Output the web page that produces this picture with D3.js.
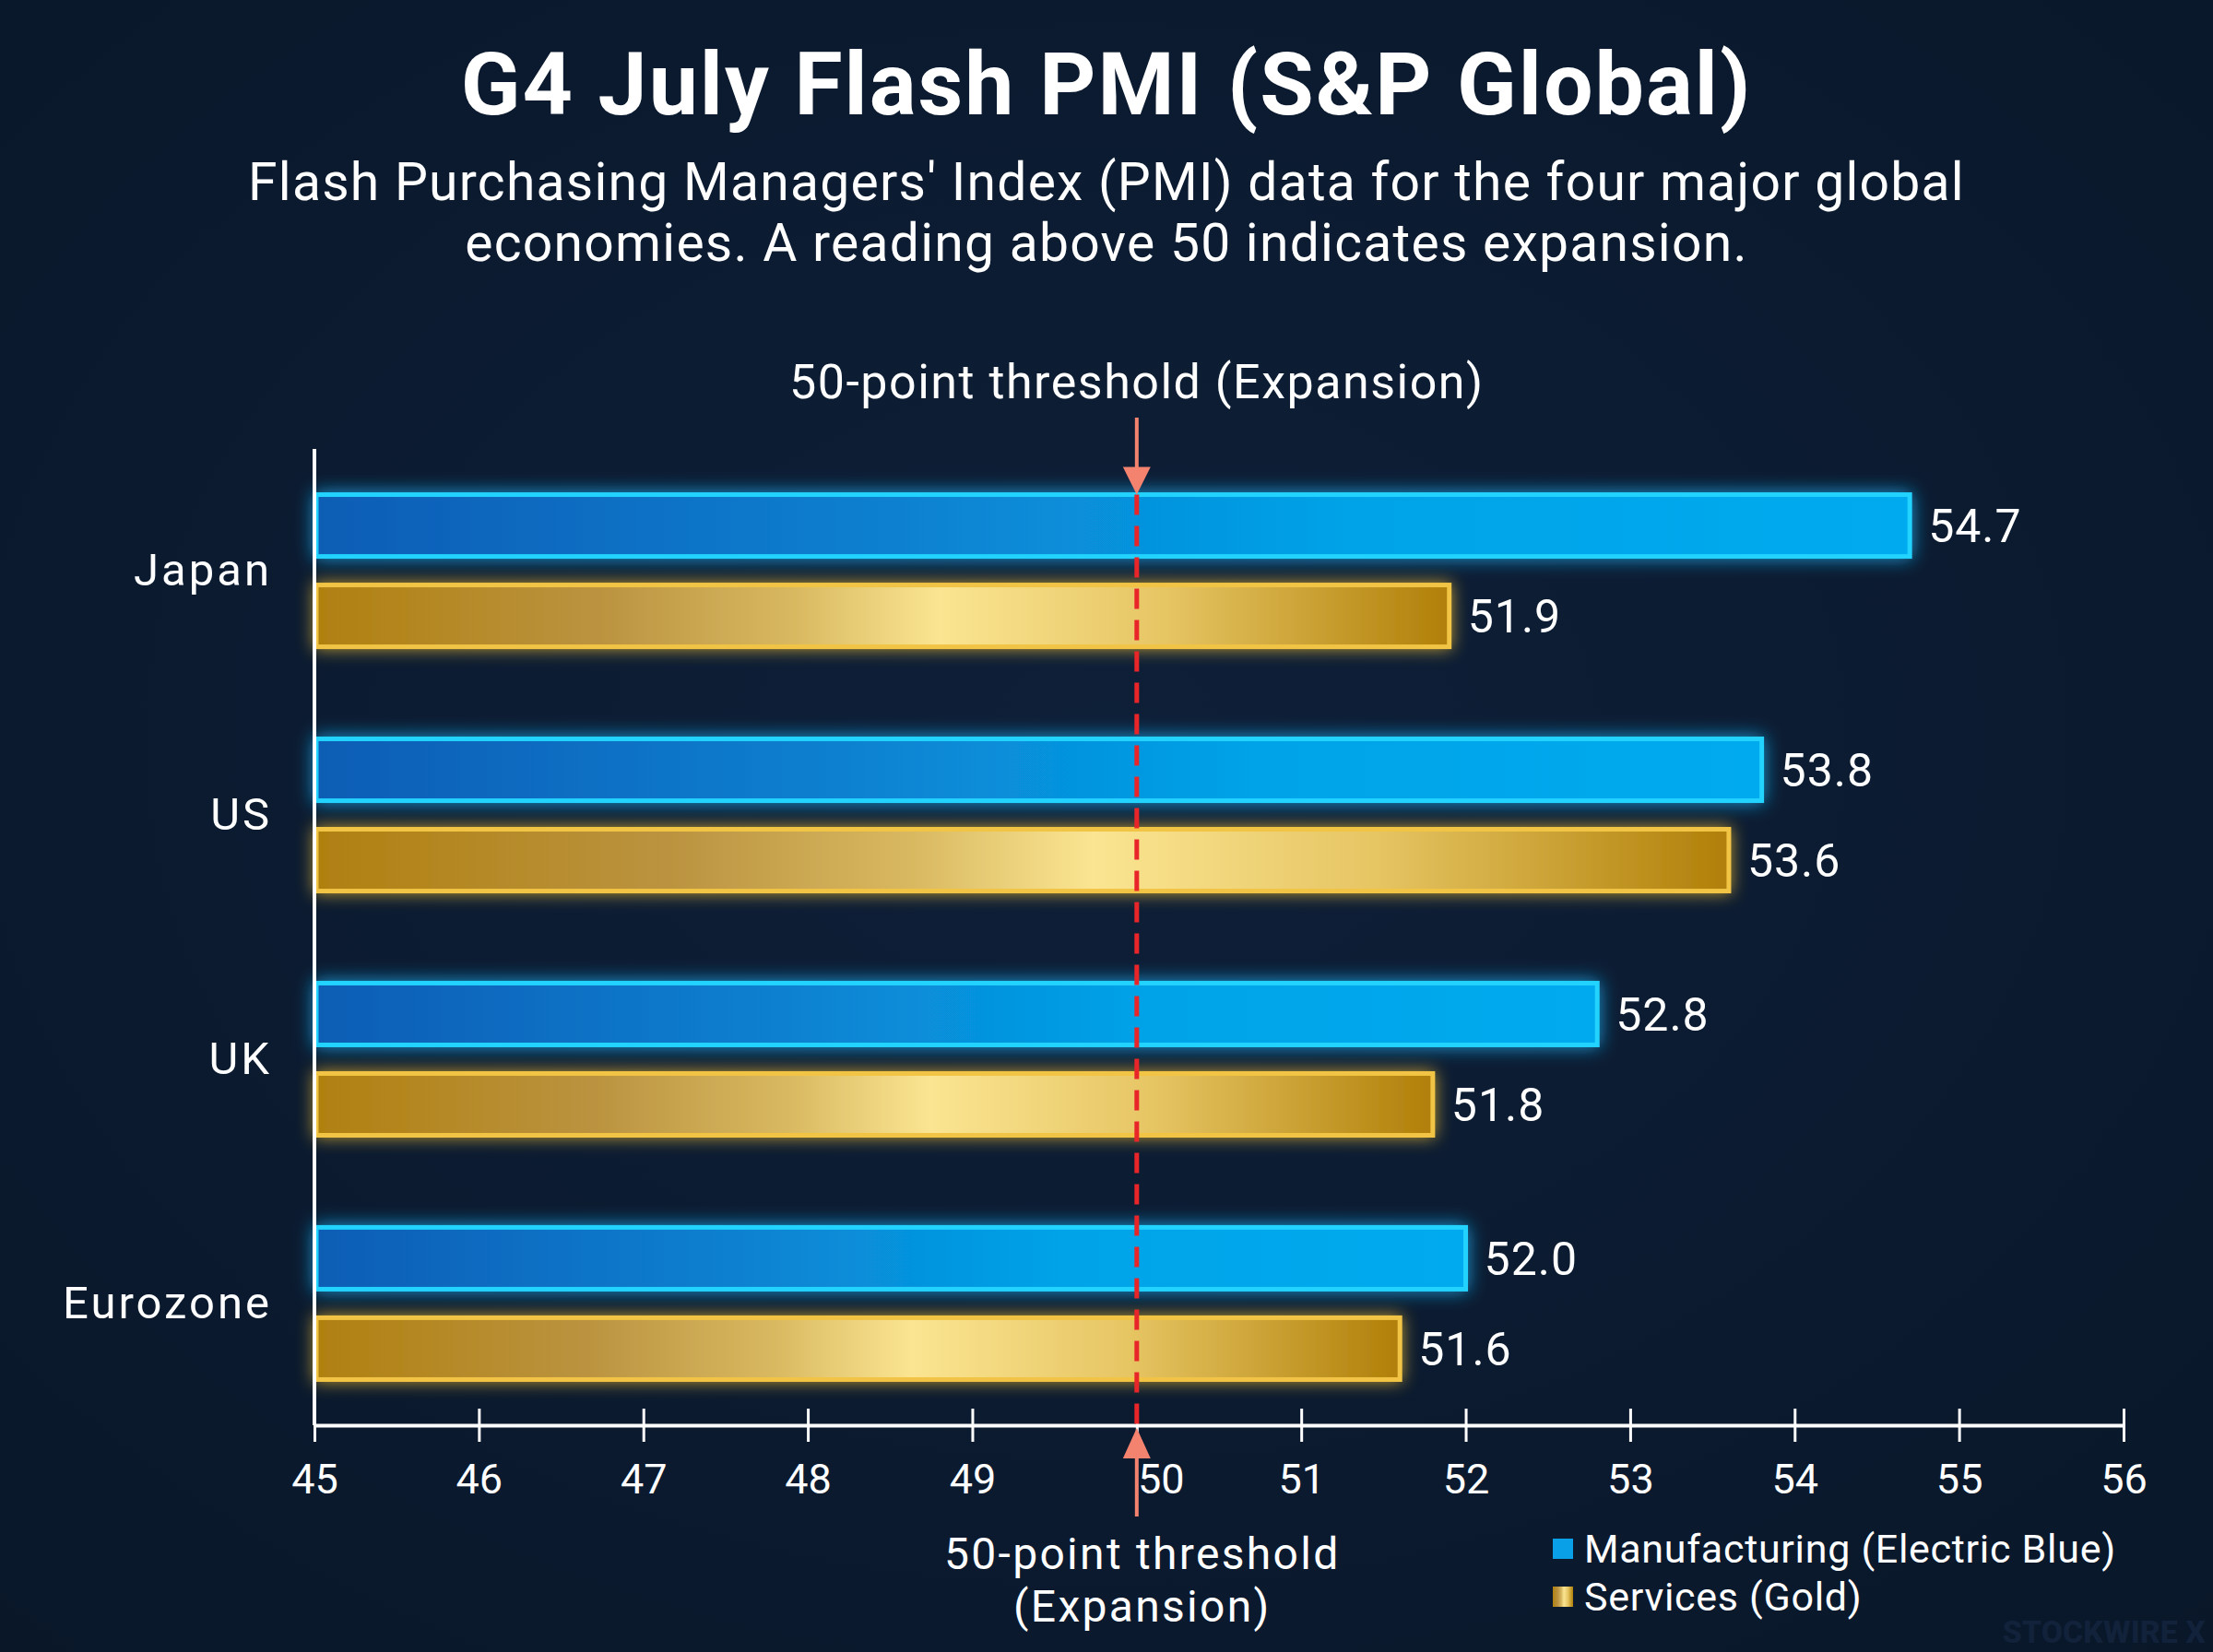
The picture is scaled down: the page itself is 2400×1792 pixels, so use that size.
<!DOCTYPE html>
<html>
<head>
<meta charset="utf-8">
<script src="https://cdn.jsdelivr.net/npm/d3@7"></script>
<style>
  html, body { margin: 0; padding: 0; background: #0b1a30; }
  svg { display: block; }
  text { font-family: Roboto, "Open Sans", sans-serif; fill: #ffffff; }
</style>
</head>
<body>
<div id="chart"></div>
<script>
(function(){
    "use strict";

    //chart data
    var countries = ["Japan", "US", "UK", "Eurozone"];
    var series = ["Manufacturing", "Services"];
    var manufacturing = [54.7, 53.8, 52.8, 52.0];
    var services = [51.9, 53.6, 51.8, 51.6];
    var xTicks = [45, 46, 47, 48, 49, 50, 51, 52, 53, 54, 55, 56];
    var threshold = 50;
    var legendLabels = ["Manufacturing (Electric Blue)", "Services (Gold)"];
    var subtitleLines = ["Flash Purchasing Managers' Index (PMI) data for the four major global",
        "economies. A reading above 50 indicates expansion."];
    var bottomNoteLines = ["50-point threshold", "(Expansion)"];

    var width = 2400, height = 1792;
    var margin = {left: 341, right: 97, top: 487, bottom: 246};

    var svg = d3.select("#chart").append("svg")
        .attr("width", width)
        .attr("height", height);

    var defs = svg.append("defs");

    //background
    var bg = defs.append("radialGradient").attr("id", "bgGrad")
        .attr("cx", "50%").attr("cy", "45%").attr("r", "75%");
    bg.append("stop").attr("offset", "0%").attr("stop-color", "#0e1f38");
    bg.append("stop").attr("offset", "100%").attr("stop-color", "#091729");
    svg.append("rect").attr("width", width).attr("height", height).attr("fill", "url(#bgGrad)");

    //bar gradients
    var blue = defs.append("linearGradient").attr("id", "blueGrad");
    [["0%", "#0a5db5"], ["35%", "#0a7fcf"], ["65%", "#03a3e8"], ["100%", "#02aaee"]].forEach(function(s){
        blue.append("stop").attr("offset", s[0]).attr("stop-color", s[1]);
    });
    var gold = defs.append("linearGradient").attr("id", "goldGrad");
    [["0%", "#b08010"], ["25%", "#bb9340"], ["42%", "#d8b860"], ["55%", "#fbe592"], ["75%", "#e6c563"], ["100%", "#b07f08"]].forEach(function(s){
        gold.append("stop").attr("offset", s[0]).attr("stop-color", s[1]);
    });

    //glow filter
    function glow(id, color, dev){
        var f = defs.append("filter").attr("id", id)
            .attr("x", "-10%").attr("y", "-60%").attr("width", "120%").attr("height", "220%");
        f.append("feGaussianBlur").attr("in", "SourceAlpha").attr("stdDeviation", dev).attr("result", "blur");
        f.append("feFlood").attr("flood-color", color).attr("flood-opacity", 0.8);
        f.append("feComposite").attr("in2", "blur").attr("operator", "in").attr("result", "glow");
        var m = f.append("feMerge");
        m.append("feMergeNode").attr("in", "glow");
        m.append("feMergeNode").attr("in", "SourceGraphic");
    }
    glow("glowBlue", "#1ab8ff", 10);
    glow("glowGold", "#e8b830", 9);

    //scales
    var x = d3.scaleLinear()
        .domain([xTicks[0], xTicks[xTicks.length - 1]])
        .range([margin.left, width - margin.right]);
    var y0 = d3.scaleBand()
        .domain(countries)
        .range([margin.top, height - margin.bottom])
        .paddingInner(0.377)
        .paddingOuter(0.187);
    var y1 = d3.scaleBand()
        .domain(series)
        .range([0, y0.bandwidth()])
        .paddingInner(0.316);

    var rows = countries.map(function(c, i){
        return {country: c, values: [
            {key: "Manufacturing", value: manufacturing[i]},
            {key: "Services", value: services[i]}
        ]};
    });

    //multi-line text block as one text element
    function textBlock(xPos, yPos, lines, size, lineGap, spacing){
        var t = svg.append("text")
            .attr("x", xPos).attr("y", yPos)
            .attr("text-anchor", "middle")
            .style("font-size", size + "px")
            .style("letter-spacing", spacing + "px");
        t.selectAll("tspan")
            .data(lines)
            .join("tspan")
            .attr("x", xPos)
            .attr("dy", function(d, i){ return i ? lineGap : 0; })
            .text(function(d){ return d; });
        return t;
    }

    //title
    svg.append("text")
        .attr("x", width / 2).attr("y", 124)
        .attr("text-anchor", "middle")
        .style("font-size", "95px").style("font-weight", 700)
        .style("letter-spacing", "2px")
        .text("G4 July Flash PMI (S&P Global)");
    textBlock(width / 2, 217, subtitleLines, 57, 66, 1.25);

    //bars
    var groups = svg.append("g").selectAll("g")
        .data(rows)
        .join("g")
        .attr("transform", function(d){ return "translate(0," + y0(d.country) + ")"; });

    groups.selectAll("rect")
        .data(function(d){ return d.values; })
        .join("rect")
        .attr("x", x(xTicks[0]) + 2)
        .attr("y", function(d){ return y1(d.key); })
        .attr("width", function(d){ return x(d.value) - x(xTicks[0]) - 2; })
        .attr("height", y1.bandwidth())
        .attr("fill", function(d){ return d.key === "Manufacturing" ? "url(#blueGrad)" : "url(#goldGrad)"; })
        .attr("stroke", function(d){ return d.key === "Manufacturing" ? "#22d2ff" : "#f2c444"; })
        .attr("stroke-width", 5)
        .attr("filter", function(d){ return d.key === "Manufacturing" ? "url(#glowBlue)" : "url(#glowGold)"; });

    groups.selectAll("text.value")
        .data(function(d){ return d.values; })
        .join("text")
        .attr("class", "value")
        .attr("x", function(d){ return x(d.value) + 20; })
        .attr("y", function(d){ return y1(d.key) + y1.bandwidth() / 2; })
        .attr("dy", "0.36em")
        .style("font-size", "50px").style("letter-spacing", "1px")
        .text(function(d){ return d.value.toFixed(1); });

    //x axis
    var xAxis = svg.append("g")
        .attr("transform", "translate(0," + (height - margin.bottom) + ")")
        .call(d3.axisBottom(x).tickValues(xTicks).tickSize(18).tickSizeOuter(0).tickPadding(24));
    xAxis.select(".domain").attr("stroke", "#ffffff").attr("stroke-width", 4);
    xAxis.selectAll(".tick line").attr("stroke", "#ffffff").attr("stroke-width", 3).attr("y1", -18);
    xAxis.selectAll(".tick text")
        .style("font-size", "45px").style("font-family", "Roboto, sans-serif")
        .attr("fill", "#ffffff")
        .attr("dx", function(d){ return d === threshold ? 26 : 0; });

    //y axis
    var yAxis = svg.append("g")
        .attr("transform", "translate(" + margin.left + ",0)")
        .call(d3.axisLeft(y0).tickSize(0).tickPadding(46).tickSizeOuter(0));
    yAxis.select(".domain").remove();
    yAxis.selectAll(".tick text")
        .style("font-size", "49px").style("letter-spacing", "3px")
        .style("font-family", "Roboto, sans-serif")
        .attr("fill", "#ffffff");
    svg.append("line")
        .attr("x1", margin.left).attr("x2", margin.left)
        .attr("y1", margin.top).attr("y2", height - margin.bottom)
        .attr("stroke", "#ffffff").attr("stroke-width", 4);

    //threshold line
    var tx = x(threshold);
    var plotTop = y0(countries[0]) + y1(series[0]);
    svg.append("line")
        .attr("x1", tx).attr("x2", tx)
        .attr("y1", plotTop).attr("y2", height - margin.bottom)
        .attr("stroke", "#e8262a").attr("stroke-width", 5)
        .attr("stroke-dasharray", "22,12");

    //arrows
    var arrowColor = "#f3826f";
    svg.append("line")
        .attr("x1", tx).attr("x2", tx).attr("y1", 453).attr("y2", plotTop - 26)
        .attr("stroke", arrowColor).attr("stroke-width", 4);
    svg.append("path")
        .attr("d", "M" + (tx - 15) + "," + (plotTop - 30) + "L" + (tx + 15) + "," + (plotTop - 30) + "L" + tx + "," + plotTop + "Z")
        .attr("fill", arrowColor);
    var axisY = height - margin.bottom;
    svg.append("line")
        .attr("x1", tx).attr("x2", tx).attr("y1", axisY + 30).attr("y2", 1645)
        .attr("stroke", arrowColor).attr("stroke-width", 4);
    svg.append("path")
        .attr("d", "M" + (tx - 15) + "," + (axisY + 36) + "L" + (tx + 15) + "," + (axisY + 36) + "L" + tx + "," + (axisY + 3) + "Z")
        .attr("fill", arrowColor);

    //threshold labels
    svg.append("text")
        .attr("x", tx).attr("y", 432)
        .attr("text-anchor", "middle")
        .style("font-size", "52px").style("letter-spacing", "1.5px")
        .text("50-point threshold (Expansion)");
    textBlock(tx + 6, 1702, bottomNoteLines, 48, 57, 2.3);

    //legend
    var legend = svg.append("g").attr("transform", "translate(1684,1669)");
    var legendItems = legend.selectAll("g")
        .data(legendLabels)
        .join("g")
        .attr("transform", function(d, i){ return "translate(0," + (i * 52) + ")"; });
    legendItems.append("rect")
        .attr("width", 22).attr("height", 22)
        .attr("fill", function(d, i){ return i === 0 ? "#0aa0e8" : "url(#goldGrad)"; });
    legendItems.append("text")
        .attr("x", 34).attr("y", 11).attr("dy", "0.36em")
        .style("font-size", "43px").style("letter-spacing", "0.7px")
        .text(function(d){ return d; });

    //watermark
    svg.append("text")
        .attr("x", 2392).attr("y", 1782)
        .attr("text-anchor", "end")
        .style("font-size", "34px").style("font-weight", 800)
        .style("fill", "#12223b")
        .text("STOCKWIRE X");
})();
</script>
</body>
</html>
